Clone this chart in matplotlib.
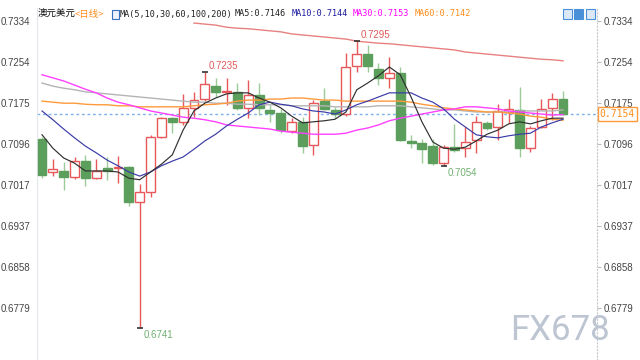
import numpy as np
import matplotlib
matplotlib.use("Agg")
import matplotlib.pyplot as plt
from matplotlib.patches import Rectangle

# ---------------- data ----------------
opens = [0.7106, 0.7041, 0.7044, 0.7033, 0.7064, 0.7031, 0.7049, 0.7049, 0.7052, 0.6983,
         0.7004, 0.7110, 0.7147, 0.7139, 0.7166, 0.7183, 0.7209, 0.7197, 0.7197, 0.7166,
         0.7191, 0.7162, 0.7156, 0.7122, 0.7139, 0.7095, 0.7180, 0.7162, 0.7154, 0.7247,
         0.7270, 0.7241, 0.7224, 0.7234, 0.7102, 0.7098, 0.7093, 0.7060, 0.7091, 0.7089,
         0.7104, 0.7137, 0.7129, 0.7158, 0.7162, 0.7089, 0.7129, 0.7166, 0.7183]
highs = [0.7110, 0.7068, 0.7062, 0.7071, 0.7075, 0.7068, 0.7070, 0.7073, 0.7054, 0.7018,
         0.7114, 0.7149, 0.7149, 0.7193, 0.7197, 0.7235, 0.7224, 0.7224, 0.7214, 0.7220,
         0.7214, 0.7172, 0.7164, 0.7147, 0.7149, 0.7181, 0.7205, 0.7168, 0.7272, 0.7295,
         0.7288, 0.7253, 0.7265, 0.7245, 0.7114, 0.7106, 0.7106, 0.7095, 0.7135, 0.7129,
         0.7151, 0.7141, 0.7174, 0.7183, 0.7207, 0.7131, 0.7183, 0.7195, 0.7199]
lows = [0.7031, 0.7034, 0.7008, 0.7029, 0.7015, 0.7029, 0.7027, 0.7021, 0.6977, 0.6741,
        0.6994, 0.7108, 0.7118, 0.7133, 0.7149, 0.7180, 0.7187, 0.7172, 0.7162, 0.7147,
        0.7153, 0.7139, 0.7118, 0.7118, 0.7079, 0.7075, 0.7162, 0.7147, 0.7151, 0.7236,
        0.7236, 0.7210, 0.7205, 0.7102, 0.7089, 0.7060, 0.7056, 0.7054, 0.7081, 0.7071,
        0.7079, 0.7124, 0.7104, 0.7137, 0.7070, 0.7081, 0.7127, 0.7143, 0.7153]
closes = [0.7037, 0.7047, 0.7033, 0.7064, 0.7031, 0.7044, 0.7044, 0.7052, 0.6983, 0.7004,
          0.7110, 0.7147, 0.7139, 0.7166, 0.7182, 0.7212, 0.7197, 0.7199, 0.7166, 0.7191,
          0.7166, 0.7156, 0.7124, 0.7139, 0.7093, 0.7176, 0.7164, 0.7154, 0.7245, 0.7270,
          0.7247, 0.7224, 0.7234, 0.7104, 0.7098, 0.7087, 0.7060, 0.7091, 0.7085, 0.7100,
          0.7139, 0.7127, 0.7160, 0.7164, 0.7089, 0.7127, 0.7164, 0.7183, 0.7154]

ma5 = [0.7114, 0.7088, 0.7069, 0.7059, 0.7044, 0.7044, 0.7044, 0.7042, 0.7030, 0.7027,
       0.7042, 0.7057, 0.7075, 0.7123, 0.7160, 0.7175, 0.7185, 0.7193, 0.7195, 0.7195,
       0.7185, 0.7177, 0.7166, 0.7150, 0.7137, 0.7139, 0.7141, 0.7144, 0.7158, 0.7201,
       0.7214, 0.7228, 0.7245, 0.7230, 0.7187, 0.7139, 0.7100, 0.7088, 0.7086, 0.7090,
       0.7102, 0.7115, 0.7123, 0.7135, 0.7139, 0.7135, 0.7141, 0.7146, 0.7146]
ma10 = [0.7160, 0.7143, 0.7125, 0.7108, 0.7092, 0.7079, 0.7065, 0.7054, 0.7042, 0.7034,
        0.7042, 0.7054, 0.7063, 0.7071, 0.7086, 0.7102, 0.7115, 0.7131, 0.7144, 0.7156,
        0.7172, 0.7177, 0.7173, 0.7170, 0.7164, 0.7160, 0.7158, 0.7154, 0.7162, 0.7172,
        0.7179, 0.7187, 0.7195, 0.7195, 0.7195, 0.7185, 0.7177, 0.7164, 0.7144, 0.7129,
        0.7114, 0.7110, 0.7108, 0.7112, 0.7115, 0.7117, 0.7129, 0.7137, 0.7144]
ma30 = [0.7230, 0.7224, 0.7218, 0.7210, 0.7202, 0.7195, 0.7185, 0.7177, 0.7172, 0.7166,
        0.7160, 0.7156, 0.7152, 0.7148, 0.7146, 0.7143, 0.7139, 0.7133, 0.7131, 0.7129,
        0.7127, 0.7125, 0.7121, 0.7119, 0.7117, 0.7115, 0.7115, 0.7115, 0.7117, 0.7123,
        0.7127, 0.7133, 0.7141, 0.7146, 0.7150, 0.7154, 0.7158, 0.7162, 0.7164, 0.7168,
        0.7168, 0.7166, 0.7164, 0.7160, 0.7158, 0.7156, 0.7154, 0.7152, 0.7153]
ma60 = [0.7179, 0.7177, 0.7175, 0.7175, 0.7173, 0.7172, 0.7172, 0.7170, 0.7170, 0.7168,
        0.7168, 0.7168, 0.7168, 0.7168, 0.7170, 0.7172, 0.7173, 0.7175, 0.7179, 0.7181,
        0.7181, 0.7183, 0.7183, 0.7185, 0.7185, 0.7183, 0.7181, 0.7181, 0.7179, 0.7179,
        0.7179, 0.7179, 0.7179, 0.7179, 0.7177, 0.7173, 0.7170, 0.7166, 0.7164, 0.7162,
        0.7160, 0.7158, 0.7158, 0.7156, 0.7154, 0.7150, 0.7148, 0.7144, 0.7142]
ma100 = [0.7214, 0.7208, 0.7204, 0.7201, 0.7197, 0.7195, 0.7193, 0.7191, 0.7189, 0.7187,
         0.7185, 0.7183, 0.7181, 0.7179, 0.7177, 0.7177, 0.7175, 0.7175, 0.7173, 0.7173,
         0.7172, 0.7172, 0.7172, 0.7170, 0.7170, 0.7170, 0.7170, 0.7168, 0.7168, 0.7168,
         0.7168, 0.7170, 0.7170, 0.7170, 0.7168, 0.7166, 0.7164, 0.7162, 0.7162, 0.7160,
         0.7158, 0.7158, 0.7158, 0.7158, 0.7160, 0.7160, 0.7160, 0.7160, 0.7162]
nan = float("nan")
ma200 = [nan] * 14 + [0.7330, 0.7328, 0.7326, 0.7322, 0.7320, 0.7319, 0.7317, 0.7315, 0.7313,
                      0.7309, 0.7307, 0.7305, 0.7303, 0.7301, 0.7299, 0.7295, 0.7293, 0.7291,
                      0.7290, 0.7288, 0.7286, 0.7284, 0.7282, 0.7280, 0.7278, 0.7274, 0.7272,
                      0.7270, 0.7268, 0.7266, 0.7264, 0.7262, 0.7260, 0.7259, 0.7257]

yticks = [0.7334, 0.7254, 0.7175, 0.7096, 0.7017, 0.6937, 0.6858, 0.6779]
last_price = 0.7154
title_main = "澳元美元"
title_period = "<日线>"
ma_header = "MA(5,10,30,60,100,200)"
ma_labels = ["MA5:0.7146", "MA10:0.7144", "MA30:0.7153", "MA60:0.7142"]
extremes = [(15, 0.7235, "high"), (29, 0.7295, "high"), (37, 0.7054, "low"), (9, 0.6741, "low")]

# ---------------- figure ----------------
W, H = 640, 360
fig = plt.figure(figsize=(6.4, 3.6), dpi=100)
fig.patch.set_facecolor("white")
ax = fig.add_axes([37 / W, 0, (597 - 37) / W, 352 / H])
ax.set_facecolor("white")

n = len(closes)
x = np.arange(n)
UP = "#e8585a"
DN = "#5c9e5c"
DN_WICK = "#9ccb98"
bw = 0.82
for i in range(n):
    o, h, l, c = opens[i], highs[i], lows[i], closes[i]
    top, bot = max(o, c), min(o, c)
    if c > o:
        ax.vlines(i, top, h, color=UP, lw=1, zorder=2)
        ax.vlines(i, l, bot, color=UP, lw=1, zorder=2)
        ax.add_patch(Rectangle((i - bw / 2, bot), bw, max(top - bot, 0.00008),
                               facecolor="white", edgecolor=UP, lw=1, zorder=3))
    else:
        ax.vlines(i, l, h, color=DN_WICK, lw=1, zorder=2)
        ax.add_patch(Rectangle((i - bw / 2, bot), bw, max(top - bot, 0.00008),
                               facecolor=DN, edgecolor=DN, lw=1, zorder=3))

ax.plot(x, ma200, color="#e88080", lw=1.0, zorder=4)
ax.plot(x, ma100, color="#b4b4b4", lw=1.0, zorder=4)
ax.plot(x, ma60, color="#ff9a3c", lw=1.0, zorder=4)
ax.plot(x, ma30, color="#ff40ff", lw=1.0, zorder=4)
ax.plot(x, ma10, color="#3a3aa8", lw=0.85, zorder=5)
ax.plot(x, ma5, color="#303030", lw=0.85, zorder=6)

ax.axhline(last_price, color="#7fb2ea", lw=1.0, ls=(0, (2, 2)), zorder=1)

# extreme labels
for idx, val, kind in extremes:
    ax.plot([idx], [val], marker="_", color="#333333", ms=5, mew=1.2, zorder=7)
    if kind == "high":
        ax.annotate(f"{val:.4f}", (idx, val), xytext=(3, 4.5), textcoords="offset points",
                    color="#e05a5a", fontsize=7, family="Liberation Sans",
                    ha="left", va="center", zorder=8)
    else:
        ax.annotate(f"{val:.4f}", (idx, val), xytext=(3, -5), textcoords="offset points",
                    color="#72b072", fontsize=7, family="Liberation Sans",
                    ha="left", va="center", zorder=8)

ax.set_xlim(-0.46, 51.13)
ax.set_ylim(0.66784, 0.73591)
ax.set_xticks([])
ax.set_yticks(yticks)
ax.set_yticklabels([f"{v:.4f}" for v in yticks])
ax.tick_params(axis="y", left=False, right=True, labelleft=True, labelright=True,
               length=3, width=0.8, color="#bbbbbb", labelsize=7, labelcolor="#444444", pad=2)
for lab in ax.get_yticklabels():
    lab.set_family("Liberation Sans")
for s in ["top", "bottom"]:
    ax.spines[s].set_visible(False)
ax.spines["left"].set_color("#e2e7ee")
ax.spines["left"].set_linewidth(0.8)
ax.spines["right"].set_color("#c8c8c8")
ax.spines["right"].set_linewidth(0.8)
ax.spines["right"].set_linestyle((0, (1, 2)))

# last price box
ax.annotate(f"{last_price:.4f}", xy=(1.0, last_price), xycoords=("axes fraction", "data"),
            xytext=(2, 0), textcoords="offset points", ha="left", va="center",
            fontsize=7, family="DejaVu Sans Mono", color="#ff8c1a",
            bbox=dict(boxstyle="square,pad=0.2", fc="white", ec="#ff9a3c", lw=1),
            annotation_clip=False, zorder=9)

# header
def fx(px):
    return px / W

def fy(py):
    return 1 - py / H

fig.text(fx(38), fy(14), title_main, family=["Noto Sans CJK SC", "DejaVu Sans"],
         fontsize=6.8, color="#111111", va="center", ha="left", fontweight="medium")
fig.text(fx(75), fy(14), title_period, family=["Noto Sans CJK SC", "DejaVu Sans"],
         fontsize=6.8, color="#ff8c1a", va="center", ha="left")
fig.patches.append(Rectangle((fx(112), fy(19)), 7 / W, 9 / H, transform=fig.transFigure,
                             fc="#eef2fb", ec="#3a6fc0", lw=0.8))
fig.text(fx(120), fy(14), ma_header, family="DejaVu Sans Mono", fontsize=6.1,
         color="#222222", va="center", ha="left")
ma_colors = ["#222222", "#1a1aa0", "#ff00ff", "#ff8c1a"]
ma_xpos = [235, 292, 353, 415]
for lbl, col, px in zip(ma_labels, ma_colors, ma_xpos):
    fig.text(fx(px), fy(14), lbl, family="DejaVu Sans Mono", fontsize=6.1,
             color=col, va="center", ha="left")

for px, fc in [(563, "#dbe8f7"), (574, "#4a90d9"), (586, "#dbe8f7")]:
    fig.patches.append(Rectangle((fx(px), fy(19)), 9 / W, 10 / H, transform=fig.transFigure,
                                 fc=fc, ec="#4a90d9", lw=0.8))

# watermark
fig.text(fx(560), fy(330), "FX678", family="Roboto", fontsize=25, color="#bcc5d1",
         ha="center", va="center", fontweight="normal")

fig.savefig("out.png", dpi=100)
